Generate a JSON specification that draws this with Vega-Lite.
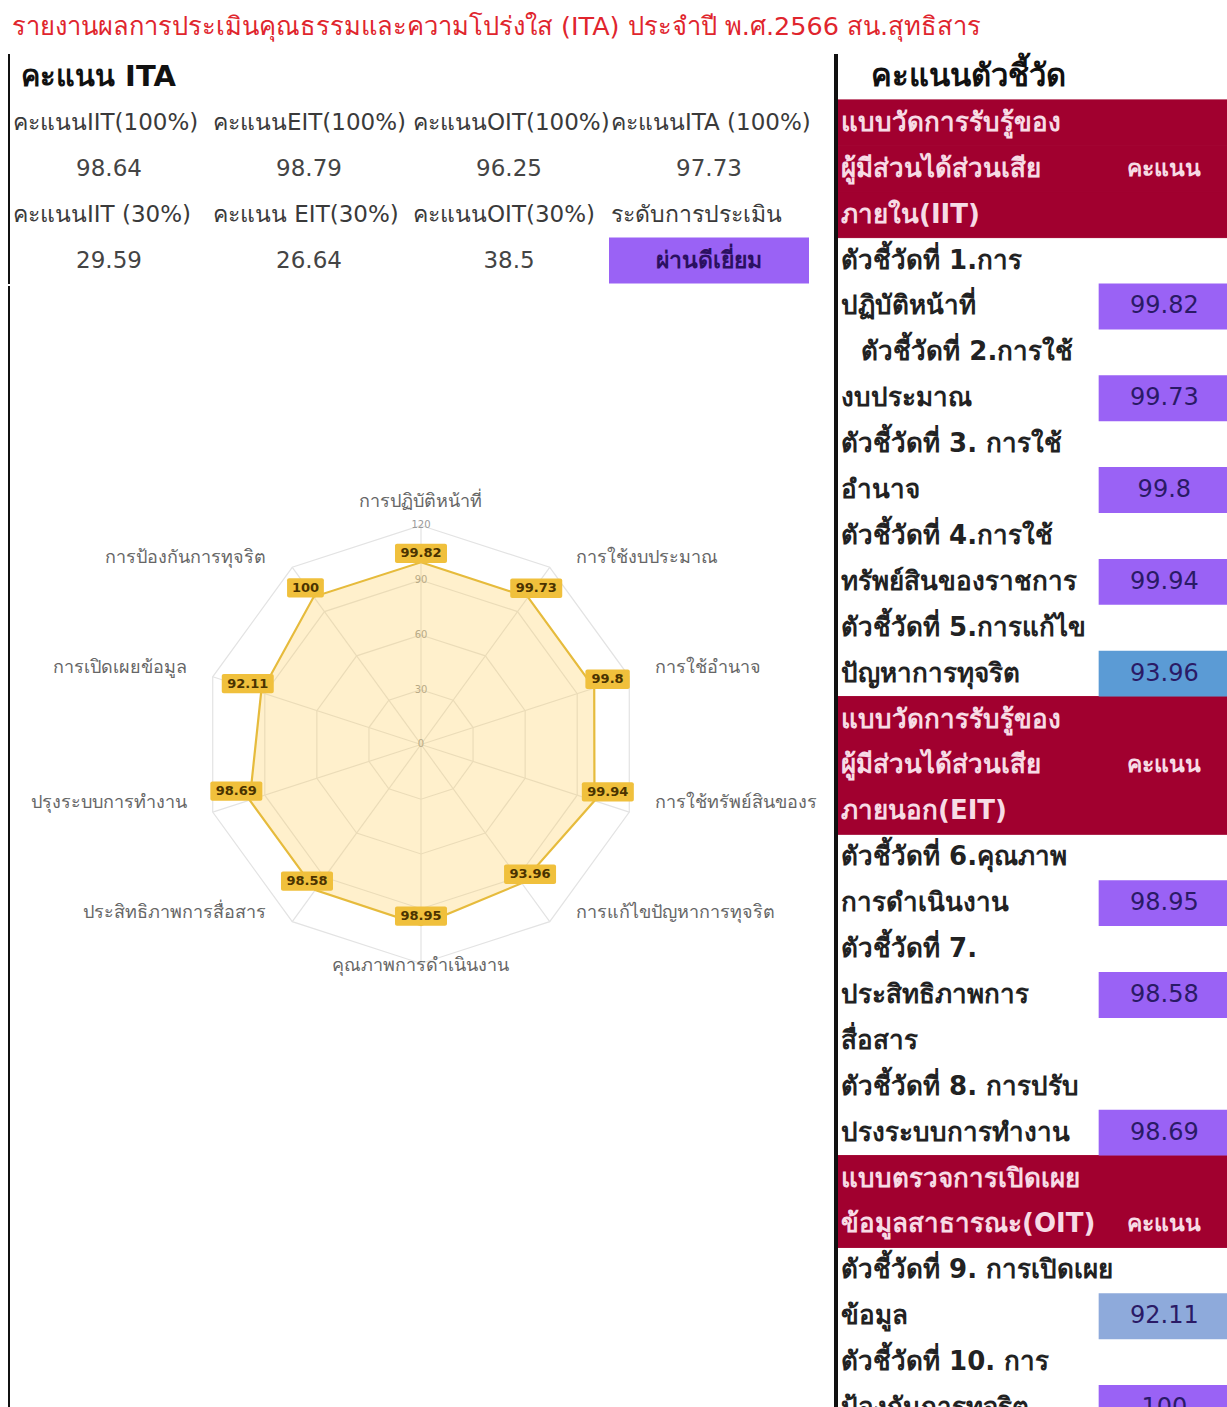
{
 "$schema": "https://vega.github.io/schema/vega-lite/v6.json",
 "background": "white",
 "padding": {"left": 8, "top": 15, "right": 0, "bottom": 0},
 "title": {"text": "รายงานผลการประเมินคุณธรรมและความโปร่งใส (ITA)  ประจำปี พ.ศ.2566 สน.สุทธิสาร", "anchor": "start", "color": "#e0252d", "fontSize": 25.5, "fontWeight": "normal", "offset": 11.5, "dx": 4},
 "config": {"view": {"stroke": null}, "font": "DejaVu Sans"},
 "datasets": {
  "left": [
   {"r": 0, "c": "c1", "t": "คะแนน ITA", "kind": "title"},
   {"r": 1, "c": "c1", "t": "คะแนนIIT(100%)", "kind": "label"},
   {"r": 1, "c": "c2", "t": "คะแนนEIT(100%)", "kind": "label"},
   {"r": 1, "c": "c3", "t": "คะแนนOIT(100%)", "kind": "label"},
   {"r": 1, "c": "c4", "t": "คะแนนITA (100%)", "kind": "label"},
   {"r": 2, "c": "c1", "t": "98.64", "kind": "value"},
   {"r": 2, "c": "c2", "t": "98.79", "kind": "value"},
   {"r": 2, "c": "c3", "t": "96.25", "kind": "value"},
   {"r": 2, "c": "c4", "t": "97.73", "kind": "value"},
   {"r": 3, "c": "c1", "t": "คะแนนIIT (30%)", "kind": "label"},
   {"r": 3, "c": "c2", "t": "คะแนน EIT(30%)", "kind": "label"},
   {"r": 3, "c": "c3", "t": "คะแนนOIT(30%)", "kind": "label"},
   {"r": 3, "c": "c4", "t": "ระดับการประเมิน", "kind": "label"},
   {"r": 4, "c": "c1", "t": "29.59", "kind": "value"},
   {"r": 4, "c": "c2", "t": "26.64", "kind": "value"},
   {"r": 4, "c": "c3", "t": "38.5", "kind": "value"},
   {"r": 4, "c": "c4", "t": "ผ่านดีเยี่ยม", "kind": "grade"}
  ],
  "radar": [
   {"k": 0, "name": "การปฏิบัติหน้าที่", "score": 99.82},
   {"k": 1, "name": "การใช้งบประมาณ", "score": 99.73},
   {"k": 2, "name": "การใช้อำนาจ", "score": 99.8},
   {"k": 3, "name": "การใช้ทรัพย์สินของราชการ", "score": 99.94},
   {"k": 4, "name": "การแก้ไขปัญหาการทุจริต", "score": 93.96},
   {"k": 5, "name": "คุณภาพการดำเนินงาน", "score": 98.95},
   {"k": 6, "name": "ประสิทธิภาพการสื่อสาร", "score": 98.58},
   {"k": 7, "name": "การปรับปรุงระบบการทำงาน", "score": 98.69},
   {"k": 8, "name": "การเปิดเผยข้อมูล", "score": 92.11},
   {"k": 9, "name": "การป้องกันการทุจริต", "score": 100}
  ],
  "rings": [
   {"level": 0, "k": [0, 1, 2, 3, 4, 5, 6, 7, 8, 9]},
   {"level": 30, "k": [0, 1, 2, 3, 4, 5, 6, 7, 8, 9]},
   {"level": 60, "k": [0, 1, 2, 3, 4, 5, 6, 7, 8, 9]},
   {"level": 90, "k": [0, 1, 2, 3, 4, 5, 6, 7, 8, 9]},
   {"level": 120, "k": [0, 1, 2, 3, 4, 5, 6, 7, 8, 9]}
  ],
  "right": [
   {"r": 0, "t": "คะแนนตัวชี้วัด", "kind": "title"},
   {"r": 1, "t": "แบบวัดการรับรู้ของ", "kind": "group"},
   {"r": 2, "t": "ผู้มีส่วนได้ส่วนเสีย", "kind": "group", "h": "คะแนน"},
   {"r": 3, "t": "ภายใน(IIT)", "kind": "group"},
   {"r": 4, "t": "ตัวชี้วัดที่ 1.การ", "kind": "item"},
   {"r": 5, "t": "ปฏิบัติหน้าที่", "kind": "item", "s": 99.82},
   {"r": 6, "t": "\u2800ตัวชี้วัดที่ 2.การใช้", "kind": "item"},
   {"r": 7, "t": "งบประมาณ", "kind": "item", "s": 99.73},
   {"r": 8, "t": "ตัวชี้วัดที่ 3. การใช้", "kind": "item"},
   {"r": 9, "t": "อำนาจ", "kind": "item", "s": 99.8},
   {"r": 10, "t": "ตัวชี้วัดที่ 4.การใช้", "kind": "item"},
   {"r": 11, "t": "ทรัพย์สินของราชการ", "kind": "item", "s": 99.94},
   {"r": 12, "t": "ตัวชี้วัดที่ 5.การแก้ไข", "kind": "item"},
   {"r": 13, "t": "ปัญหาการทุจริต", "kind": "item", "s": 93.96},
   {"r": 14, "t": "แบบวัดการรับรู้ของ", "kind": "group"},
   {"r": 15, "t": "ผู้มีส่วนได้ส่วนเสีย", "kind": "group", "h": "คะแนน"},
   {"r": 16, "t": "ภายนอก(EIT)", "kind": "group"},
   {"r": 17, "t": "ตัวชี้วัดที่ 6.คุณภาพ", "kind": "item"},
   {"r": 18, "t": "การดำเนินงาน", "kind": "item", "s": 98.95},
   {"r": 19, "t": "ตัวชี้วัดที่ 7.", "kind": "item"},
   {"r": 20, "t": "ประสิทธิภาพการ", "kind": "item", "s": 98.58},
   {"r": 21, "t": "สื่อสาร", "kind": "item"},
   {"r": 22, "t": "ตัวชี้วัดที่ 8. การปรับ", "kind": "item"},
   {"r": 23, "t": "ปรงระบบการทำงาน", "kind": "item", "s": 98.69},
   {"r": 24, "t": "แบบตรวจการเปิดเผย", "kind": "group"},
   {"r": 25, "t": "ข้อมูลสาธารณะ(OIT)", "kind": "group", "h": "คะแนน"},
   {"r": 26, "t": "ตัวชี้วัดที่ 9. การเปิดเผย", "kind": "item"},
   {"r": 27, "t": "ข้อมูล", "kind": "item", "s": 92.11},
   {"r": 28, "t": "ตัวชี้วัดที่ 10. การ", "kind": "item"},
   {"r": 29, "t": "ป้องกันการทุจริต", "kind": "item", "s": 100}
  ]
 },
 "spacing": 0,
 "hconcat": [
  {
   "spacing": 0,
   "vconcat": [
    {
     "width": 800,
     "height": 229.5,
     "data": {"name": "left"},
     "layer": [
      {
       "transform": [{"filter": "datum.kind === 'grade'"}],
       "mark": {"type": "rect", "color": "#9a62f5"},
       "encoding": {
        "x": {"field": "c", "type": "nominal", "scale": {"domain": ["c1", "c2", "c3", "c4"], "paddingInner": 0, "paddingOuter": 0}, "axis": null},
        "y": {"field": "r", "type": "ordinal", "scale": {"domain": [0, 1, 2, 3, 4], "paddingInner": 0, "paddingOuter": 0}, "axis": null}
       }
      },
      {
       "mark": {"type": "rule", "color": "#111", "strokeWidth": 2},
       "encoding": {
        "x": {"datum": "c1", "type": "nominal", "bandPosition": 0, "axis": null}
       }
      },
      {
       "transform": [{"filter": "datum.kind === 'title'"}],
       "mark": {"type": "text", "align": "left", "dx": 12, "fontSize": 29, "fontWeight": "bold", "color": "#111"},
       "encoding": {
        "x": {"field": "c", "type": "nominal", "bandPosition": 0, "axis": null},
        "y": {"field": "r", "type": "ordinal", "axis": null},
        "text": {"field": "t", "type": "nominal"}
       }
      },
      {
       "transform": [{"filter": "datum.kind === 'label' && datum.c !== 'c4'"}],
       "mark": {"type": "text", "align": "left", "dx": 4, "fontSize": 23, "color": "#3a3a3a", "limit": 200, "ellipsis": " "},
       "encoding": {
        "x": {"field": "c", "type": "nominal", "bandPosition": 0, "axis": null},
        "y": {"field": "r", "type": "ordinal", "axis": null},
        "text": {"field": "t", "type": "nominal"}
       }
      },
      {
       "transform": [{"filter": "datum.kind === 'label' && datum.c === 'c4'"}],
       "mark": {"type": "text", "align": "left", "dx": 2, "fontSize": 23, "color": "#3a3a3a", "limit": 208, "ellipsis": " "},
       "encoding": {
        "x": {"field": "c", "type": "nominal", "bandPosition": 0, "axis": null},
        "y": {"field": "r", "type": "ordinal", "axis": null},
        "text": {"field": "t", "type": "nominal"}
       }
      },
      {
       "transform": [{"filter": "datum.kind === 'value'"}],
       "mark": {"type": "text", "fontSize": 23, "color": "#444"},
       "encoding": {
        "x": {"field": "c", "type": "nominal", "axis": null},
        "y": {"field": "r", "type": "ordinal", "axis": null},
        "text": {"field": "t", "type": "nominal"}
       }
      },
      {
       "transform": [{"filter": "datum.kind === 'grade'"}],
       "mark": {"type": "text", "fontSize": 23, "fontWeight": "bold", "color": "#2b1060"},
       "encoding": {
        "x": {"field": "c", "type": "nominal", "axis": null},
        "y": {"field": "r", "type": "ordinal", "axis": null},
        "text": {"field": "t", "type": "nominal"}
       }
      }
     ]
    },
    {
     "width": 825,
     "height": 1126,
     "layer": [
      {
       "data": {"name": "rings"},
       "transform": [
        {"flatten": ["k"]},
        {"filter": "datum.level > 0"},
        {"calculate": "datum.k * PI / 5", "as": "th"},
        {"calculate": "datum.level * sin(datum.th)", "as": "gx"},
        {"calculate": "datum.level * cos(datum.th)", "as": "gy"}
       ],
       "mark": {"type": "line", "interpolate": "linear-closed", "stroke": "#e3e3e3", "strokeWidth": 1.2},
       "encoding": {
        "x": {"field": "gx", "type": "quantitative", "scale": {"domain": [-225.75, 226.3], "nice": false, "zero": false}, "axis": null},
        "y": {"field": "gy", "type": "quantitative", "scale": {"domain": [-365.75, 251.2], "nice": false, "zero": false}, "axis": null},
        "detail": {"field": "level", "type": "nominal"},
        "order": {"field": "k", "type": "quantitative"}
       }
      },
      {
       "data": {"name": "rings"},
       "transform": [
        {"flatten": ["k"]},
        {"filter": "datum.level === 0 || datum.level === 120"},
        {"calculate": "datum.k * PI / 5", "as": "th"},
        {"calculate": "datum.level * sin(datum.th)", "as": "gx"},
        {"calculate": "datum.level * cos(datum.th)", "as": "gy"}
       ],
       "mark": {"type": "line", "stroke": "#e3e3e3", "strokeWidth": 1.2},
       "encoding": {
        "x": {"field": "gx", "type": "quantitative", "scale": {"domain": [-225.75, 226.3], "nice": false, "zero": false}, "axis": null},
        "y": {"field": "gy", "type": "quantitative", "scale": {"domain": [-365.75, 251.2], "nice": false, "zero": false}, "axis": null},
        "detail": {"field": "k", "type": "nominal"},
        "order": {"field": "level", "type": "quantitative"}
       }
      },
      {
       "data": {"name": "rings"},
       "transform": [
        {"flatten": ["k"]},
        {"filter": "datum.k === 0"},
        {"calculate": "datum.level * sin(datum.k * PI / 5)", "as": "gx"}
       ],
       "mark": {"type": "text", "fontSize": 10, "color": "#9a9a9a"},
       "encoding": {
        "x": {"field": "gx", "type": "quantitative", "scale": {"domain": [-225.75, 226.3], "nice": false, "zero": false}, "axis": null},
        "y": {"field": "level", "type": "quantitative", "scale": {"domain": [-365.75, 251.2], "nice": false, "zero": false}, "axis": null},
        "text": {"field": "level", "type": "nominal"}
       }
      },
      {
       "data": {"name": "radar"},
       "transform": [
        {"calculate": "datum.k * PI / 5", "as": "th"},
        {"calculate": "datum.score * sin(datum.th)", "as": "px"},
        {"calculate": "datum.score * cos(datum.th)", "as": "py"}
       ],
       "mark": {"type": "line", "interpolate": "linear-closed", "fill": "#ffcd56", "fillOpacity": 0.3, "stroke": "#e6bb3c", "strokeWidth": 2.2},
       "encoding": {
        "x": {"field": "px", "type": "quantitative", "scale": {"domain": [-225.75, 226.3], "nice": false, "zero": false}, "axis": null},
        "y": {"field": "py", "type": "quantitative", "scale": {"domain": [-365.75, 251.2], "nice": false, "zero": false}, "axis": null},
        "order": {"field": "k", "type": "quantitative"}
       }
      },
      {
       "data": {"name": "radar"},
       "transform": [
        {"calculate": "datum.k * PI / 5", "as": "th"},
        {"calculate": "(datum.score + 7.7) * sin(datum.th)", "as": "lx"},
        {"calculate": "datum.score * cos(datum.th) + 4.9", "as": "ly"},
        {"calculate": "(7 + 3.8 * length(toString(datum.score))) / 1.825", "as": "hw"},
        {"calculate": "datum.lx - datum.hw", "as": "lx1"},
        {"calculate": "datum.lx + datum.hw", "as": "lx2"},
        {"calculate": "datum.ly - 5.3", "as": "ly1"},
        {"calculate": "datum.ly + 5.3", "as": "ly2"}
       ],
       "mark": {"type": "rect", "color": "#f0c03c", "cornerRadius": 2},
       "encoding": {
        "x": {"field": "lx1", "type": "quantitative", "scale": {"domain": [-225.75, 226.3], "nice": false, "zero": false}, "axis": null},
        "x2": {"field": "lx2"},
        "y": {"field": "ly1", "type": "quantitative", "scale": {"domain": [-365.75, 251.2], "nice": false, "zero": false}, "axis": null},
        "y2": {"field": "ly2"}
       }
      },
      {
       "data": {"name": "radar"},
       "transform": [
        {"calculate": "datum.k * PI / 5", "as": "th"},
        {"calculate": "(datum.score + 7.7) * sin(datum.th)", "as": "lx"},
        {"calculate": "datum.score * cos(datum.th) + 4.9", "as": "ly"}
       ],
       "mark": {"type": "text", "fontSize": 13, "fontWeight": "bold", "color": "#4a3300"},
       "encoding": {
        "x": {"field": "lx", "type": "quantitative", "scale": {"domain": [-225.75, 226.3], "nice": false, "zero": false}, "axis": null},
        "y": {"field": "ly", "type": "quantitative", "scale": {"domain": [-365.75, 251.2], "nice": false, "zero": false}, "axis": null},
        "text": {"field": "score", "type": "nominal"}
       }
      },
      {
       "data": {"name": "radar"},
       "transform": [
        {"filter": "datum.k === 0"},
        {"calculate": "datum.k * PI / 5", "as": "th"},
        {"calculate": "120 * sin(datum.th)", "as": "ex"},
        {"calculate": "120 * cos(datum.th)", "as": "ey"}
       ],
       "mark": {"type": "text", "fontSize": 18, "color": "#666", "dy": -23},
       "encoding": {
        "x": {"field": "ex", "type": "quantitative", "scale": {"domain": [-225.75, 226.3], "nice": false, "zero": false}, "axis": null},
        "y": {"field": "ey", "type": "quantitative", "scale": {"domain": [-365.75, 251.2], "nice": false, "zero": false}, "axis": null},
        "text": {"field": "name", "type": "nominal"}
       }
      },
      {
       "data": {"name": "radar"},
       "transform": [
        {"filter": "datum.k === 5"},
        {"calculate": "datum.k * PI / 5", "as": "th"},
        {"calculate": "120 * sin(datum.th)", "as": "ex"},
        {"calculate": "120 * cos(datum.th)", "as": "ey"}
       ],
       "mark": {"type": "text", "fontSize": 18, "color": "#666", "dy": 3},
       "encoding": {
        "x": {"field": "ex", "type": "quantitative", "scale": {"domain": [-225.75, 226.3], "nice": false, "zero": false}, "axis": null},
        "y": {"field": "ey", "type": "quantitative", "scale": {"domain": [-365.75, 251.2], "nice": false, "zero": false}, "axis": null},
        "text": {"field": "name", "type": "nominal"}
       }
      },
      {
       "data": {"name": "radar"},
       "transform": [
        {"filter": "datum.k === 1 || datum.k === 2 || datum.k === 4"},
        {"calculate": "datum.k * PI / 5", "as": "th"},
        {"calculate": "120 * sin(datum.th)", "as": "ex"},
        {"calculate": "120 * cos(datum.th)", "as": "ey"}
       ],
       "mark": {"type": "text", "fontSize": 18, "color": "#666", "align": "left", "dx": 26, "dy": -9},
       "encoding": {
        "x": {"field": "ex", "type": "quantitative", "scale": {"domain": [-225.75, 226.3], "nice": false, "zero": false}, "axis": null},
        "y": {"field": "ey", "type": "quantitative", "scale": {"domain": [-365.75, 251.2], "nice": false, "zero": false}, "axis": null},
        "text": {"field": "name", "type": "nominal"}
       }
      },
      {
       "data": {"name": "radar"},
       "transform": [
        {"filter": "datum.k === 3"},
        {"calculate": "datum.k * PI / 5", "as": "th"},
        {"calculate": "120 * sin(datum.th)", "as": "ex"},
        {"calculate": "120 * cos(datum.th)", "as": "ey"}
       ],
       "mark": {"type": "text", "fontSize": 18, "color": "#666", "align": "left", "dx": 26, "dy": -9, "limit": 168, "ellipsis": " "},
       "encoding": {
        "x": {"field": "ex", "type": "quantitative", "scale": {"domain": [-225.75, 226.3], "nice": false, "zero": false}, "axis": null},
        "y": {"field": "ey", "type": "quantitative", "scale": {"domain": [-365.75, 251.2], "nice": false, "zero": false}, "axis": null},
        "text": {"field": "name", "type": "nominal"}
       }
      },
      {
       "data": {"name": "radar"},
       "transform": [
        {"filter": "datum.k === 6 || datum.k === 8 || datum.k === 9"},
        {"calculate": "datum.k * PI / 5", "as": "th"},
        {"calculate": "120 * sin(datum.th)", "as": "ex"},
        {"calculate": "120 * cos(datum.th)", "as": "ey"}
       ],
       "mark": {"type": "text", "fontSize": 18, "color": "#666", "align": "right", "dx": -26, "dy": -9},
       "encoding": {
        "x": {"field": "ex", "type": "quantitative", "scale": {"domain": [-225.75, 226.3], "nice": false, "zero": false}, "axis": null},
        "y": {"field": "ey", "type": "quantitative", "scale": {"domain": [-365.75, 251.2], "nice": false, "zero": false}, "axis": null},
        "text": {"field": "name", "type": "nominal"}
       }
      },
      {
       "data": {"name": "radar"},
       "transform": [
        {"filter": "datum.k === 7"},
        {"calculate": "datum.k * PI / 5", "as": "th"},
        {"calculate": "120 * sin(datum.th)", "as": "ex"},
        {"calculate": "120 * cos(datum.th)", "as": "ey"}
       ],
       "mark": {"type": "text", "fontSize": 18, "color": "#666", "align": "right", "dx": -26, "dy": -9, "limit": 163, "ellipsis": " ", "dir": "rtl"},
       "encoding": {
        "x": {"field": "ex", "type": "quantitative", "scale": {"domain": [-225.75, 226.3], "nice": false, "zero": false}, "axis": null},
        "y": {"field": "ey", "type": "quantitative", "scale": {"domain": [-365.75, 251.2], "nice": false, "zero": false}, "axis": null},
        "text": {"field": "name", "type": "nominal"}
       }
      },
      {
       "data": {"name": "radar"},
       "mark": {"type": "rule", "color": "#111", "strokeWidth": 2},
       "encoding": {
        "x": {"datum": -225.75, "type": "quantitative", "scale": {"domain": [-225.75, 226.3], "nice": false, "zero": false}, "axis": null}
       }
      }
     ]
    }
   ]
  },
  {
   "width": 394,
   "height": 1377,
   "data": {"name": "right"},
   "layer": [
    {
     "transform": [{"filter": "datum.kind === 'group'"}],
     "mark": {"type": "rect", "color": "#a1002f", "stroke": "#a1002f", "strokeWidth": 1},
     "encoding": {
      "y": {"field": "r", "type": "ordinal", "scale": {"domain": [0,1,2,3,4,5,6,7,8,9,10,11,12,13,14,15,16,17,18,19,20,21,22,23,24,25,26,27,28,29], "paddingInner": 0, "paddingOuter": 0}, "axis": null}
     }
    },
    {
     "transform": [{"filter": "isValid(datum.s)"}],
     "mark": {"type": "rect"},
     "encoding": {
      "x": {"datum": "v", "type": "nominal", "scale": {"domain": ["a", "b", "v"], "paddingInner": 0, "paddingOuter": 0}, "axis": null},
      "y": {"field": "r", "type": "ordinal", "axis": null},
      "color": {"field": "s", "type": "quantitative", "scale": {"type": "threshold", "domain": [93, 95], "range": ["#8eaadb", "#5b9bd5", "#9a62f5"]}, "legend": null}
     }
    },
    {
     "mark": {"type": "rule", "color": "#111", "strokeWidth": 3.5},
     "encoding": {
      "x": {"datum": "a", "type": "nominal", "bandPosition": 0, "axis": null}
     }
    },
    {
     "transform": [{"filter": "datum.kind === 'title'"}],
     "mark": {"type": "text", "align": "left", "dx": 35, "fontSize": 31, "fontWeight": "bold", "color": "#111"},
     "encoding": {
      "x": {"datum": "a", "type": "nominal", "bandPosition": 0, "axis": null},
      "y": {"field": "r", "type": "ordinal", "axis": null},
      "text": {"field": "t", "type": "nominal"}
     }
    },
    {
     "transform": [{"filter": "datum.kind === 'item'"}],
     "mark": {"type": "text", "align": "left", "dx": 5, "fontSize": 26, "fontWeight": "bold", "color": "#222"},
     "encoding": {
      "x": {"datum": "a", "type": "nominal", "bandPosition": 0, "axis": null},
      "y": {"field": "r", "type": "ordinal", "axis": null},
      "text": {"field": "t", "type": "nominal"}
     }
    },
    {
     "transform": [{"filter": "datum.kind === 'group'"}],
     "mark": {"type": "text", "align": "left", "dx": 5, "fontSize": 26, "fontWeight": "bold", "color": "#f7dbe5"},
     "encoding": {
      "x": {"datum": "a", "type": "nominal", "bandPosition": 0, "axis": null},
      "y": {"field": "r", "type": "ordinal", "axis": null},
      "text": {"field": "t", "type": "nominal"}
     }
    },
    {
     "transform": [{"filter": "isValid(datum.h)"}],
     "mark": {"type": "text", "fontSize": 23, "fontWeight": "bold", "color": "#f7dbe5"},
     "encoding": {
      "x": {"datum": "v", "type": "nominal", "axis": null},
      "y": {"field": "r", "type": "ordinal", "axis": null},
      "text": {"field": "h", "type": "nominal"}
     }
    },
    {
     "transform": [{"filter": "isValid(datum.s)"}],
     "mark": {"type": "text", "fontSize": 24, "color": "#2a1a66"},
     "encoding": {
      "x": {"datum": "v", "type": "nominal", "axis": null},
      "y": {"field": "r", "type": "ordinal", "axis": null},
      "text": {"field": "s", "type": "nominal"}
     }
    }
   ]
  }
 ]
}
